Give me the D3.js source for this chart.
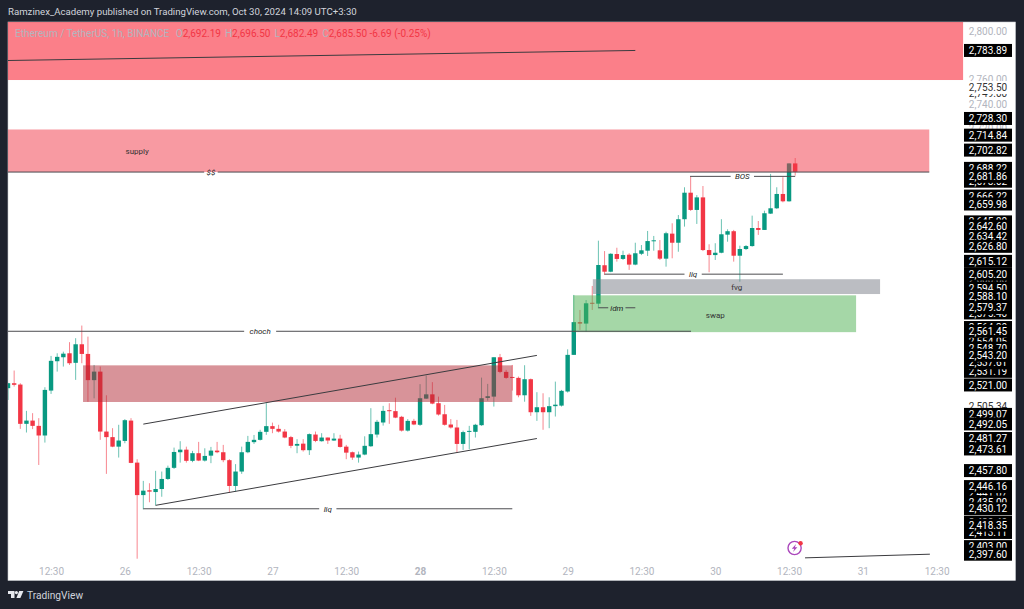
<!DOCTYPE html>
<html>
<head>
<meta charset="utf-8">
<title>ETHUSDT 1h</title>
<script src="https://cdnjs.cloudflare.com/ajax/libs/d3/7.8.5/d3.min.js"></script>
<style>
  html, body { margin: 0; padding: 0; background: #1e222d; }
  svg { display: block; }
  text { font-family: Roboto, "Liberation Sans", sans-serif; }
</style>
</head>
<body>
<div class="container"></div>
<script>
/* ===== DATA ===== */
// one hourly bar per entry
var opens = [
  2518.6,2522.3,2521.3,2492.1,2494.5,2490.6,2483.5,2516.8,2538.8,2541.8,
  2544.8,2537.6,2551.6,2544.3,2524.6,2531,2486.4,2482.3,2475.3,2479.5,
  2494.5,2463.6,2440,2443.5,2442.2,2444.4,2451.7,2459.8,2471.2,2473.1,
  2464.9,2470.5,2465.1,2468.7,2472.4,2471.2,2465.4,2446.6,2457.1,2471.2,
  2478.6,2480.3,2486.2,2490.4,2488.4,2486.4,2482.3,2476,2477.5,2472.7,
  2484.2,2479.3,2482,2479.8,2481.2,2475.3,2471.2,2467.3,2469.5,2475.6,
  2484.2,2493.1,2502.2,2501.5,2497.3,2487.1,2494.3,2491.4,2510.8,2514,
  2507.4,2499.2,2491.6,2489.4,2477.3,2486.4,2486.2,2491.1,2511.3,2512.3,
  2541.8,2530.8,2527,2526.3,2513.3,2525.3,2500.7,2504.4,2500.7,2505.2,
  2505.6,2516.1,2543.6,2568.4,2567.3,2583.2,2582.5,2612.1,2607.1,2620.8,
  2617,2620.3,2612.6,2621,2623.4,2630.8,2623.7,2617.2,2636.7,2629.6,
  2648,2668.9,2655.3,2665.2,2623.9,2620,2621.8,2635.9,2638.6,2619.5,
  2624.7,2627,2641.1,2639.6,2652.4,2656.6,2667.9,2662.1,2692.19
];
var closes = [
  2522.3,2521.1,2492.1,2494.5,2490.6,2483.5,2517.3,2539.1,2542.1,2544.5,
  2537.3,2551.6,2544.3,2524.6,2531,2486.4,2482.3,2475.3,2479.8,2494.8,
  2463.4,2440,2443.2,2442.5,2444.4,2451.7,2459.8,2471.4,2473.1,2464.9,
  2470.5,2465.1,2468.5,2472.4,2471.2,2465.4,2446.6,2457.1,2471.2,2478.8,
  2480.3,2486.2,2490.4,2488.4,2486.4,2482,2475.9,2477.3,2472.7,2484.5,
  2479.5,2482,2479.8,2481.2,2475.1,2470.9,2467.3,2469.5,2475.9,2484.5,
  2493.6,2501.7,2501.5,2496.7,2487.1,2494.3,2491.6,2511.1,2514,2507.1,
  2499,2491.4,2489.4,2477.3,2486,2486.9,2491.4,2511.1,2512.6,2541.8,
  2530.8,2526.3,2526.5,2513.3,2525.3,2500.7,2504.4,2500.7,2505.2,2506.3,
  2516.6,2543.6,2568.4,2567.3,2582.8,2582.5,2612.3,2607.1,2621,2617,
  2620,2612.6,2621.4,2623.7,2630.9,2631.5,2617.2,2637,2629.6,2648,
  2668.9,2655.3,2665.2,2623.9,2620,2621.8,2636.2,2638.6,2619.5,2624.7,
  2627,2641.1,2639.6,2652.7,2656.6,2667.9,2662.1,2692.19,2685.5
];
var highs = [
  2522.5,2531.8,2522.3,2501.7,2500,2496.3,2519.3,2542.8,2544.8,2546,
  2553.2,2556.2,2565.8,2557.4,2536,2534.8,2513.3,2488.9,2491.4,2495.6,
  2496.3,2466.1,2450.3,2448.6,2457.6,2457.1,2461.4,2474.6,2479.3,2475.3,
  2472.2,2478.8,2474.1,2475.1,2478.8,2476.6,2466.1,2462.5,2475.3,2483.2,
  2483.9,2487.7,2507.4,2493,2491.4,2488.2,2483.2,2480.8,2480.8,2485,
  2486.4,2485.2,2482,2485.2,2484,2476.6,2471.7,2471.7,2482.9,2503.7,
  2495,2505.4,2507.4,2511.5,2498,2495.6,2495.8,2521.6,2528,2523.1,
  2512.3,2506.1,2495.6,2495,2487.1,2490.6,2492.1,2526.5,2521.8,2541.8,
  2544.3,2532.3,2536,2527.3,2535.8,2525.8,2515.6,2514.8,2511.8,2523.5,
  2517.3,2547.8,2589.2,2577.7,2585.3,2596.1,2631.2,2623.1,2621.4,2625.7,
  2623.4,2621.4,2629.6,2627.8,2638.8,2634.9,2631.7,2638.2,2644.8,2651.3,
  2673.2,2681.6,2667,2674.2,2628.4,2629.2,2648,2640.1,2639.6,2627.3,
  2627.8,2650.8,2646.6,2654.7,2683.8,2673.2,2681.2,2692.3,2696.5
];
var lows = [
  2509.8,2519.8,2488.4,2485.7,2488.2,2461.9,2478.3,2514.3,2531,2534.8,
  2536,2524.8,2537.3,2508.5,2511,2480.3,2455.4,2474.9,2467.3,2477.8,
  2463.2,2394.4,2429.7,2434.8,2432.6,2438.8,2451,2459,2463.6,2463.6,
  2463.9,2464.7,2464.4,2463.2,2470.5,2463.9,2441.7,2442.5,2455.4,2470.5,
  2477.3,2479.8,2484,2485.2,2485.7,2481.5,2474.2,2470.5,2471.7,2469.2,
  2478.6,2479,2477.3,2479.5,2474.6,2466.1,2465.6,2463.6,2469,2475.1,
  2482,2490.8,2492.1,2496.3,2486.4,2486.4,2491.1,2490.6,2510.6,2506.6,
  2498.2,2490.8,2488.6,2471.2,2472.9,2473.4,2482,2490.6,2509.3,2504.9,
  2529.8,2525.6,2516.8,2511.8,2508.5,2498,2494.3,2487.7,2488.9,2497.5,
  2504.9,2515.3,2543.6,2562.5,2561.2,2577.7,2579,2604.6,2606.7,2614.9,
  2616.2,2608.5,2612.1,2620,2619.3,2623.4,2616.2,2611,2617.5,2622.6,
  2642.2,2654.5,2644.3,2623.1,2606.7,2616.2,2621.4,2630.4,2614.9,2599.4,
  2623.9,2626.5,2635.7,2639.6,2652.1,2656,2661.3,2661.8,2682.49
];

// time axis: bar number and what is printed there
var timeTickBars = [7, 19, 31, 43, 55, 67, 79, 91, 103, 115, 127, 139, 151];
var timeTickLabels = ['12:30','26','12:30','27','12:30','28','12:30','29','12:30','30','12:30','31','12:30'];

// price axis
var priceTicks = [2800, 2760, 2740, 2720];
var whiteLabels = [2749.00, 2753.50, 2505.34];
// paint order, later ones lie on top
var blackLabels = [2783.89, 2728.30, 2714.84, 2702.82, 2688.22, 2678.02, 2681.86, 2666.22, 2659.98,
  2645.90, 2642.60, 2634.42, 2626.80, 2615.12, 2600.80, 2605.20, 2594.50, 2588.10, 2575.40, 2579.37,
  2564.30, 2554.05, 2561.45, 2548.70, 2531.19, 2537.61, 2543.20, 2521.00, 2499.07, 2492.05, 2481.27,
  2473.61, 2457.80, 2441.07, 2446.16, 2435.00, 2430.12, 2420.40, 2413.11, 2418.35, 2403.00, 2397.60];

// drawings: from bar, to bar, top price, bottom price
var zoneFrom  = [0, 0, 12.2, 95.1, 91.9];
var zoneTo    = [155.3, 149.8, 82, 141.8, 137.9];
var zoneTop   = [2807.5, 2719.4, 2535.7, 2601.3, 2588.9];
var zoneBot   = [2759.6, 2685.3, 2508.3, 2589.9, 2560.8];
var zoneFill  = ['rgba(247,0,19,0.5)', 'rgba(242,54,69,0.5)', 'rgba(178,40,51,0.5)', 'rgba(120,123,134,0.5)', 'rgba(76,175,80,0.5)'];

// lines: from bar, from price, to bar, to price
var lineX1 = [0, 22, 24, 129.6];
var lineP1 = [2775.6, 2491.9, 2432.6, 2395.0];
var lineX2 = [102, 86, 86, 149.9];
var lineP2 = [2783.89, 2543.2, 2481.27, 2397.6];

// levels with a label sitting in a gap of the line
var levelNames = ['$$', 'choch', 'BOS', 'liq', 'liq', 'idm'];
var levelPrice = [2685.3, 2561.45, 2681.86, 2430.12, 2605.2, 2579.37];
var levelFrom  = [0, 0, 110.9, 22, 97, 96];
var levelTo    = [149.8, 111.06, 128, 82, 126, 102];
var levelMid   = [33, 41, 119.4, 52, 111.4, 99];

var zoneTextNames = ['supply', 'fvg', 'swap'];
var zoneTextBar   = [21, 118.5, 115];
var zoneTextPrice = [2702, 2595.2, 2574];

/* ===== SET UP CHART ===== */
var w = 1024, h = 609;
var plot = {left: 8, top: 22, right: 1015.5, bottom: 580.5};

var svg = d3.select('.container').append('svg')
  .attr('width', w)
  .attr('height', h);

var x = d3.scaleLinear().domain([0, 151]).range([8, 936.65]);
var y = d3.scaleLog().domain([2800, 2397.6]).range([31, 554.2]);
var fmt = d3.format(',.2f');

svg.append('defs').append('clipPath').attr('id', 'plotclip')
  .append('rect')
  .attr('x', plot.left).attr('y', plot.top)
  .attr('width', plot.right - plot.left)
  .attr('height', plot.bottom - plot.top);

svg.append('rect')
  .attr('x', plot.left).attr('y', plot.top)
  .attr('width', plot.right - plot.left)
  .attr('height', plot.bottom - plot.top)
  .attr('fill', '#fff')
  .attr('stroke', '#c9cbd1')
  .attr('stroke-width', 0.6);

var chart = svg.append('g').attr('clip-path', 'url(#plotclip)');

/* ===== CANDLES ===== */
var up = '#089981', down = '#f23645';
var bars = chart.selectAll('g.bar')
  .data(opens)
  .enter().append('g').attr('class', 'bar');

bars.append('line')
  .attr('x1', function(d, i) { return x(i); })
  .attr('x2', function(d, i) { return x(i); })
  .attr('y1', function(d, i) { return y(highs[i]); })
  .attr('y2', function(d, i) { return y(lows[i]); })
  .attr('stroke', function(d, i) { return closes[i] >= d ? up : down; })
  .attr('stroke-opacity', 0.6)
  .attr('stroke-width', 1);

bars.append('rect')
  .attr('x', function(d, i) { return x(i) - 2.2; })
  .attr('width', 4.4)
  .attr('y', function(d, i) { return y(Math.max(d, closes[i])); })
  .attr('height', function(d, i) { return Math.max(1, Math.abs(y(d) - y(closes[i]))); })
  .attr('fill', function(d, i) { return closes[i] >= d ? up : down; });

/* ===== ZONES ===== */
chart.selectAll('rect.zone')
  .data(zoneFrom)
  .enter().append('rect')
  .attr('class', 'zone')
  .attr('x', function(d) { return x(d); })
  .attr('width', function(d, i) { return x(zoneTo[i]) - x(d); })
  .attr('y', function(d, i) { return y(zoneTop[i]); })
  .attr('height', function(d, i) { return y(zoneBot[i]) - y(zoneTop[i]); })
  .attr('fill', function(d, i) { return zoneFill[i]; });

/* ===== LINES ===== */
chart.selectAll('line.trend')
  .data(lineX1)
  .enter().append('line')
  .attr('class', 'trend')
  .attr('x1', function(d) { return x(d); })
  .attr('y1', function(d, i) { return y(lineP1[i]); })
  .attr('x2', function(d, i) { return x(lineX2[i]); })
  .attr('y2', function(d, i) { return y(lineP2[i]); })
  .attr('stroke', '#3b3b3f')
  .attr('stroke-width', 1);

levelNames.forEach(function(name, i) {
  // half width of the label gap, in bars
  var half = name === 'choch' ? 2.6 : name === '$$' ? 1.1 : name === 'BOS' ? 1.9 : 1.4;
  [[levelFrom[i], levelMid[i] - half], [levelMid[i] + half, levelTo[i]]].forEach(function(s) {
    chart.append('line')
      .attr('x1', x(s[0])).attr('x2', x(s[1]))
      .attr('y1', y(levelPrice[i])).attr('y2', y(levelPrice[i]))
      .attr('stroke', '#4c4c50')
      .attr('stroke-width', 1);
  });
  chart.append('text')
    .attr('x', x(levelMid[i]))
    .attr('y', y(levelPrice[i]))
    .attr('dy', '0.35em')
    .attr('text-anchor', 'middle')
    .attr('font-size', '8px')
    .attr('font-style', 'italic')
    .attr('fill', '#222')
    .text(name);
});

zoneTextNames.forEach(function(name, i) {
  chart.append('text')
    .attr('x', x(zoneTextBar[i]))
    .attr('y', y(zoneTextPrice[i]))
    .attr('dy', '0.35em')
    .attr('text-anchor', 'middle')
    .attr('font-size', '8px')
    .attr('fill', '#333')
    .text(name);
});

/* ===== AXES ===== */
var xAxis = d3.axisBottom(x)
  .tickValues(timeTickBars)
  .tickSize(0)
  .tickPadding(0)
  .tickFormat(function(d, i) { return timeTickLabels[i]; });

var xAxisG = svg.append('g')
  .attr('transform', 'translate(0,568)')
  .call(xAxis);
xAxisG.select('.domain').remove();
xAxisG.selectAll('text')
  .style('font-family', 'Roboto, sans-serif')
  .style('font-size', '10px')
  .style('fill', '#b2b5be')
  .style('font-weight', function(d, i) { return timeTickLabels[i] === '28' ? 'bold' : 'normal'; });

var yAxis = d3.axisRight(y)
  .tickValues(priceTicks)
  .tickSize(0)
  .tickPadding(0)
  .tickFormat(fmt);

var yAxisG = svg.append('g')
  .attr('transform', 'translate(988,0)')
  .call(yAxis);
yAxisG.select('.domain').remove();
yAxisG.selectAll('text')
  .attr('text-anchor', 'middle')
  .style('font-family', 'Roboto, sans-serif')
  .style('font-size', '10px')
  .style('fill', '#b2b5be');

function priceLabel(list, boxColor, textColor) {
  list.forEach(function(p) {
    svg.append('rect')
      .attr('x', 964).attr('width', 48)
      .attr('y', y(p) - 6.5).attr('height', 13)
      .attr('fill', boxColor);
    svg.append('text')
      .attr('x', 988).attr('y', y(p))
      .attr('dy', '0.36em')
      .attr('text-anchor', 'middle')
      .attr('font-size', '10px')
      .attr('fill', textColor)
      .text(fmt(p));
  });
}
priceLabel(whiteLabels, '#fff', '#333');
priceLabel(blackLabels, '#000', '#fff');

/* ===== ICON ===== */
var icon = chart.append('g').attr('transform', 'translate(' + x(127.9) + ',' + y(2402) + ')');
icon.append('circle').attr('r', 6.6)
  .attr('fill', 'none').attr('stroke', '#ab47bc').attr('stroke-width', 1.4);
icon.append('path')
  .attr('d', 'M1.5,-4 L-2.8,0.8 L-0.3,0.8 L-1.5,4 L2.8,-0.8 L0.3,-0.8 Z')
  .attr('fill', '#ab47bc');
icon.append('circle').attr('cx', 6).attr('cy', -4.8).attr('r', 2.2).attr('fill', '#f23645');

/* ===== HEADER AND LEGEND ===== */
svg.append('text')
  .attr('x', 8).attr('y', 15)
  .attr('font-size', '9.65px')
  .attr('fill', '#d1d4dc')
  .text('Ramzinex_Academy published on TradingView.com, Oct 30, 2024 14:09 UTC+3:30');

var legend = svg.append('text')
  .attr('x', 15).attr('y', 37)
  .attr('font-size', '10px')
  .attr('fill', '#b2b5be');
legend.append('tspan').text('Ethereum / TetherUS, 1h, BINANCE  ');
[['O', '2,692.19'], ['H', '2,696.50'], ['L', '2,682.49'], ['C', '2,685.50 -6.69 (-0.25%)']].forEach(function(t) {
  legend.append('tspan').attr('dx', 4).text(t[0]);
  legend.append('tspan').attr('fill', down).text(t[1]);
});

/* ===== LOGO ===== */
var logo = svg.append('g').attr('transform', 'translate(8,591)').attr('fill', '#e6e8ee');
logo.append('path').attr('d', 'M0,0 H6.5 V7 H3 V3 H0 Z');
logo.append('circle').attr('cx', 8.4).attr('cy', 1.6).attr('r', 1.6);
logo.append('path').attr('d', 'M11.2,0 H15.4 L12.4,7 H8.4 Z');
svg.append('text')
  .attr('x', 27).attr('y', 598.5)
  .attr('font-size', '10.2px')
  .attr('fill', '#d1d4dc')
  .text('TradingView');
</script>
</body>
</html>
